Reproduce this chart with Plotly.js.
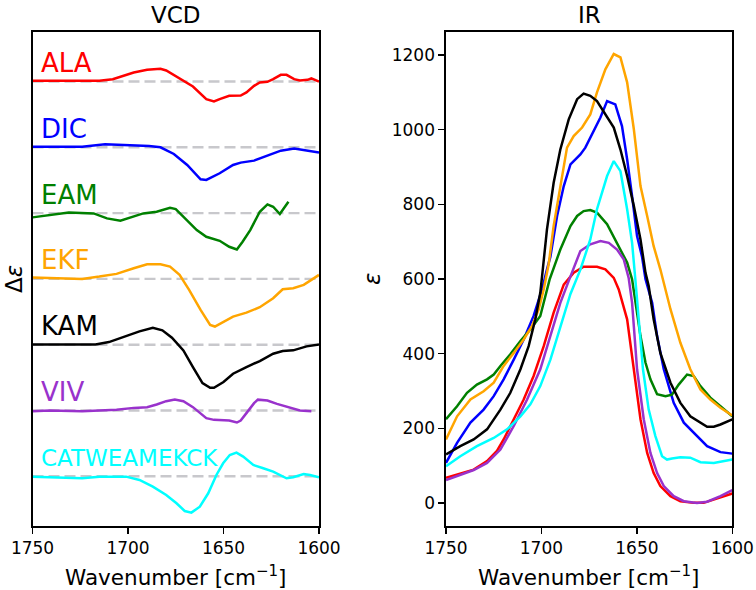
<!DOCTYPE html>
<html>
<head>
<meta charset="utf-8">
<script src="https://cdn.plot.ly/plotly-3.0.1.min.js"></script>
<style>html,body{margin:0;padding:0;background:#fff;}#chart{width:756px;height:590px;}</style>
</head>
<body>
<div id="chart"></div>
<script>
// ---------- DATA ----------
var seriesNames = ["ALA", "DIC", "EAM", "EKF", "KAM", "VIV", "CATWEAMEKCK"];
var vcdOffsets = [600, 500, 400, 300, 200, 100, 0];   // vertical stacking offsets (arb. units)
var xTicks = [1750, 1700, 1650, 1600];
var irTicks = [0, 200, 400, 600, 800, 1000, 1200];

// VCD (Δε, arbitrary units)
var vcdAlaX = [1750,1738,1725,1715,1708,1697,1690,1683,1680,1673,1666,1659,1655,1652,1647,1641,1638,1634,1631,1627,1624,1620,1617,1613,1610,1606,1604,1600];
var vcdAlaY = [1,1,1,1,3.5,13.7,17.7,19.3,16.7,5,-7.6,-26.8,-30.4,-26.8,-21.8,-21.3,-16.7,-6.6,-1.5,-0.5,3.5,10.1,10.1,3.5,1.5,2.5,4.6,0];
var vcdDicX = [1750,1724,1712,1697,1689,1683,1676,1669,1662,1659,1652,1645,1641,1634,1627,1620,1613,1606,1600];
var vcdDicY = [1,1,4.6,3,2,0,-10.1,-26.8,-48.6,-49.6,-39.5,-26.8,-23.3,-20.3,-13.2,-5.1,-2,-5.1,-8.1];
var vcdEamX = [1750,1741,1731,1718,1711,1704,1697,1692,1685,1678,1675,1669,1664,1659,1652,1647,1643,1640,1636,1631,1627,1624,1620.5,1616];
var vcdEamY = [-6.5,-3,1,-0.5,-8,-11.6,-5.6,-0.5,2,8,6,-10.6,-25.8,-36,-42.1,-51.2,-55.2,-43.6,-25.8,2,13.2,9.6,-1.5,17.2];
var vcdEkfX = [1750,1732.5,1724,1715,1706,1697,1690,1683,1678,1673,1668,1662,1657,1654.5,1650,1645,1638,1631,1624,1619,1613.5,1608,1604,1600];
var vcdEkfY = [2,1,0,3.5,7.6,16.2,22.3,22.3,18.7,6.1,-16.7,-47.1,-69.9,-72.4,-64.8,-57.2,-51.2,-43.1,-29.4,-15.7,-14.2,-9.1,-1.5,6.1];
var vcdKamX = [1750,1732.5,1717,1710,1701,1694,1687,1682,1677,1671,1666,1661,1657,1655,1650,1645,1638,1631,1624,1619,1613.5,1606.5,1600];
var vcdKamY = [0.5,0,0.5,4,12.7,20.3,25.8,21.8,10.6,-8.6,-34,-58.3,-65.4,-65.4,-56.7,-44.1,-34,-24.8,-13.7,-9.6,-8.6,-2.5,0.5];
var vcdVivX = [1750,1741,1724,1706,1697,1690,1685,1680,1675.5,1671,1666,1662,1659,1655,1650,1647,1643,1641,1638,1634,1632,1627,1622,1615,1610,1604];
var vcdVivY = [-1,0,-1,1,4,5.1,9.1,14.2,16.7,14.2,5.1,-5,-11.7,-14.2,-14.2,-15.2,-18.2,-15.2,-4,11.1,16.5,15.2,10.1,4,0,-1];
var vcdCatX = [1750,1732.5,1724,1715,1701,1694,1687,1680,1674.6,1670.3,1666.8,1662.4,1658,1653.7,1650.2,1646.7,1643.2,1639.7,1634.4,1629.2,1624,1617,1613.5,1608,1604.7,1600];
var vcdCatY = [-0.5,-1.5,-3,-0.5,-0.5,-5.6,-15.7,-28.4,-41,-52.7,-55.2,-46.1,-25.8,2,19.8,32.4,36,29.9,17.2,12.2,7.1,-3,-1.5,3.5,2,-1.5];

// IR (ε)
var irAlaX = [1750,1735.5,1728.5,1723.3,1719.8,1714.5,1709.3,1704.1,1698.8,1693.6,1688.3,1683.1,1677.9,1670.9,1666.5,1662.1,1659.5,1655.1,1651.6,1648.1,1644.6,1641.2,1637.7,1632.4,1627.2,1620.2,1615,1609.7,1600];
var irAlaY = [67,89,112,139,170,224,277,340,420,510,585,617,633,633,626,603,572,492,358,224,134,80,45,18,4.5,0,0,9,25];
var irDicX = [1750,1744.2,1737.2,1730.3,1725,1719.8,1714.5,1709.3,1704.1,1699.7,1697.1,1695.3,1691.8,1688.3,1684.8,1679.6,1677,1673.5,1669.1,1665.6,1661.3,1657.8,1655.1,1652.5,1649.9,1647.3,1645.5,1642,1639.4,1635.9,1630.7,1625.4,1620.2,1613.2,1606.2,1600];
var irDicY = [107,161,215,250,286,331,384,438,501,572,626,660,769,849,907,934,952,988,1033,1077,1068,1010,921,822,715,660,600,536,447,358,268,215,188,152,136,132];
var irEamX = [1750,1744.2,1739,1733.8,1728.5,1725,1721.5,1716.3,1711,1705.8,1700.6,1695.7,1690.1,1684.8,1681.3,1677.9,1674.4,1670.9,1665.6,1660.4,1655.1,1652.5,1650.8,1648.1,1645.5,1642.9,1639.4,1635,1631.6,1628.1,1623.7,1620.2,1616.7,1611.5,1606.2,1600];
var irEamY = [224,259,295,317,331,344,367,398,434,465,501,599,679,742,769,782,785,778,747,697,644,599,536,447,376,331,291,286,290,317,344,340,313,282,259,232];
var irEkfX = [1750,1744.2,1737.2,1730.3,1725,1719.8,1714.5,1709.3,1704.9,1701.4,1698.8,1696.2,1693.6,1690.1,1686.6,1683.1,1678.7,1674.4,1670.9,1666.5,1662.1,1658.6,1655.1,1651.6,1648.1,1644.6,1641.2,1637.7,1632.4,1627.2,1622,1616.7,1611.5,1606.2,1600];
var irEkfY = [170,232,277,299,322,367,402,438,474,519,572,640,742,849,952,983,1006,1041,1100,1162,1203,1194,1127,1002,849,769,688,626,519,429,358,304,277,255,234];
var irKamX = [1750,1742.5,1735.5,1728.5,1721.5,1716.3,1711,1706.7,1703.2,1700.6,1699.2,1697.1,1693.6,1690.1,1685.7,1681.3,1677.9,1674.4,1670.9,1667.4,1662.1,1658.6,1655.1,1651.6,1648.1,1645.5,1643.8,1641.2,1637.7,1632.4,1627.2,1622,1616.7,1613.2,1609.7,1606.2,1600];
var irKamY = [130,152,170,197,250,295,358,420,492,563,630,733,858,947,1028,1082,1097,1091,1077,1050,1006,947,876,796,706,617,581,492,402,322,268,232,215,204,204,210,224];
var irVivX = [1750,1735.5,1728.5,1721.5,1714.5,1707.5,1700.6,1695.3,1690.1,1685.7,1679.6,1674.4,1669.1,1664.7,1660.4,1656.9,1654.3,1652.5,1649.9,1646.4,1642.9,1639.4,1635.9,1630.7,1625.4,1618.5,1613.2,1606.2,1600];
var irVivY = [61,88,107,143,206,277,358,447,536,595,675,693,702,697,679,653,603,536,358,224,134,80,45,18,4.5,0,3,18,34];
var irCatX = [1750,1742.5,1733.8,1725,1718,1711,1705.8,1700.6,1695.3,1690.1,1684.8,1679.6,1674.4,1670.9,1665.6,1662.1,1658.6,1655.1,1652.5,1650.8,1649,1646.8,1643.8,1640.3,1636.8,1634.2,1631.6,1627.2,1622,1616.7,1609.7,1600];
var irCatY = [98,125,152,174,197,232,264,313,384,474,560,625,706,787,876,916,889,787,697,599,492,358,250,179,125,116,119,122,121,109,107,116];

// ---------- STYLE ----------
var colors = ["#ff0000", "#0000ff", "#008000", "#ffa500", "#000000", "#9932cc", "#00ffff"];
var labelSizes = [26, 26, 26, 26, 26, 26, 23];
var FONT = "DejaVu Sans, Verdana, sans-serif";
var LW = 2.5;

var vcdX = [vcdAlaX, vcdDicX, vcdEamX, vcdEkfX, vcdKamX, vcdVivX, vcdCatX];
var vcdY = [vcdAlaY, vcdDicY, vcdEamY, vcdEkfY, vcdKamY, vcdVivY, vcdCatY];
var irX = [irAlaX, irDicX, irEamX, irEkfX, irKamX, irVivX, irCatX];
var irY = [irAlaY, irDicY, irEamY, irEkfY, irKamY, irVivY, irCatY];

var traces = [];
// dashed baselines
seriesNames.forEach(function (n, i) {
  traces.push({
    x: [xTicks[0], xTicks[xTicks.length - 1]],
    y: [vcdOffsets[i], vcdOffsets[i]],
    xaxis: "x", yaxis: "y", mode: "lines", showlegend: false, hoverinfo: "skip",
    line: { color: "#c8c8cc", width: 2.4, dash: "11px,5px" }
  });
});
// VCD curves
seriesNames.forEach(function (n, i) {
  traces.push({
    x: vcdX[i],
    y: vcdY[i].map(function (v) { return v + vcdOffsets[i]; }),
    xaxis: "x", yaxis: "y", mode: "lines", name: n, showlegend: false,
    line: { color: colors[i], width: LW }
  });
});
// IR curves
seriesNames.forEach(function (n, i) {
  traces.push({
    x: irX[i], y: irY[i],
    xaxis: "x2", yaxis: "y2", mode: "lines", name: n, showlegend: false,
    line: { color: colors[i], width: LW }
  });
});

var annotations = [];
seriesNames.forEach(function (n, i) {
  annotations.push({
    x: 1746.5, y: vcdOffsets[i] + 28, xref: "x", yref: "y",
    xanchor: "left", yanchor: "middle", showarrow: false,
    text: n, font: { family: FONT, size: labelSizes[i], color: colors[i] }
  });
});
function paperText(txt, x, y, size, angle) {
  return { text: txt, x: x, y: y, xref: "paper", yref: "paper", xanchor: "center", yanchor: "middle",
    showarrow: false, textangle: angle || 0, borderpad: 0, font: { family: FONT, size: size, color: "#000" } };
}
annotations.push(paperText("VCD", 176 / 756, 1 - 15 / 590, 23));
annotations.push(paperText("IR", 589 / 756, 1 - 15 / 590, 23));
annotations.push(paperText("Wavenumber [cm<sup>−1</sup>]", 176 / 756, 1 - 576 / 590, 21.5));
annotations.push(paperText("Wavenumber [cm<sup>−1</sup>]", 589 / 756, 1 - 576 / 590, 21.5));
annotations.push(paperText("Δ<i>ε</i>", 14 / 756, 1 - 279 / 590, 23, -90));
annotations.push(paperText("<i>ε</i>", 372 / 756, 1 - 279 / 590, 23, -90));

var yDom = [(590 - 526) / 590, (590 - 32) / 590];
var baseX = {
  range: [1750, 1600], tickvals: xTicks, ticktext: xTicks.map(String),
  ticks: "outside", ticklen: 6, tickwidth: 1.4, tickcolor: "#000",
  showline: true, mirror: true, linecolor: "#000", linewidth: 1.6,
  showgrid: false, zeroline: false,
  tickfont: { family: FONT, size: 17, color: "#000" }
};
var layout = {
  width: 756, height: 590,
  margin: { l: 0, r: 0, t: 0, b: 0 },
  paper_bgcolor: "#fff", plot_bgcolor: "#fff",
  showlegend: false,
  xaxis: Object.assign({}, baseX, { domain: [32.5 / 756, 319 / 756], anchor: "y" }),
  yaxis: {
    domain: yDom, anchor: "x", range: [-75.5, 675.2],
    showticklabels: false, ticks: "", showgrid: false, zeroline: false,
    showline: true, mirror: true, linecolor: "#000", linewidth: 1.6
  },
  xaxis2: Object.assign({}, baseX, { domain: [446 / 756, 732.3 / 756], anchor: "y2" }),
  yaxis2: {
    domain: yDom, anchor: "x2", range: [-62, 1262], tickvals: irTicks,
    ticks: "outside", ticklen: 6, tickwidth: 1.4, tickcolor: "#000",
    showline: true, mirror: true, linecolor: "#000", linewidth: 1.6,
    showgrid: false, zeroline: false,
    tickfont: { family: FONT, size: 17, color: "#000" }
  },
  annotations: annotations
};
Plotly.newPlot("chart", traces, layout, { displayModeBar: false, staticPlot: true });
</script>
</body>
</html>
